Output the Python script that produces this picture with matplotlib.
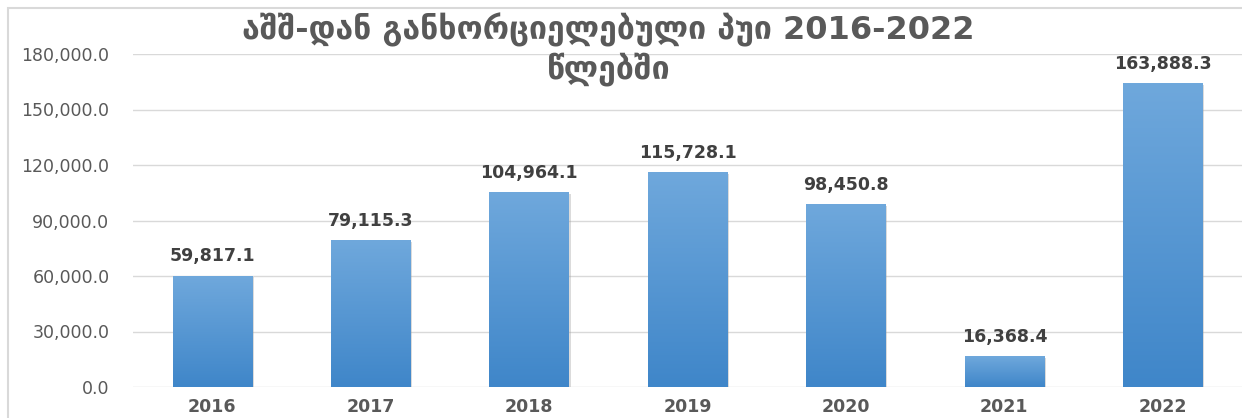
import matplotlib.pyplot as plt
import numpy as np
from matplotlib.colors import LinearSegmentedColormap
from matplotlib.patches import Rectangle

# data
years = ['2016', '2017', '2018', '2019', '2020', '2021', '2022']
values = [59817.1, 79115.3, 104964.1, 115728.1, 98450.8, 16368.4, 163888.3]
title = 'აშშ-დან განხორციელებული პუი 2016-2022\nწლებში'

plt.rcParams['font.family'] = ['DejaVu Sans']

fig = plt.figure(figsize=(12.42, 4.18), dpi=100)
ax = fig.add_axes([133 / 1242, 31 / 418, 1 - 133 / 1242, 333 / 418])

x = np.arange(len(years))
bars = ax.bar(x, values, width=0.5, color='none', zorder=3)

# gradient fill for bars
cmap = LinearSegmentedColormap.from_list('bar', ['#3f86c9', '#6fa8dc'])
grad = np.linspace(0, 1, 256).reshape(-1, 1)
for b in bars:
    x0, w, h = b.get_x(), b.get_width(), b.get_height()
    ax.add_patch(Rectangle((x0 + 0.012, 0), w, h - 600, facecolor='#9a9a9a',
                           alpha=0.35, edgecolor='none', zorder=2))
    ax.imshow(grad, cmap=cmap, aspect='auto', origin='lower',
              extent=[x0, x0 + w, 0, h], zorder=3)

for xi, v in zip(x, values):
    ax.annotate(f'{v:,.1f}', (xi, v), xytext=(0, 8), textcoords='offset points',
                ha='center', va='bottom', fontsize=12.5, fontweight='bold',
                color='#404040')

ax.set_xlim(-0.5, 6.5)
ax.set_ylim(0, 180000)
ax.set_yticks(np.arange(0, 180001, 30000))
ax.set_yticklabels([f'{t:,.1f}' for t in np.arange(0, 180001, 30000)])
ax.set_xticks(x)
ax.set_xticklabels(years, fontweight='bold')
ax.tick_params(axis='y', length=0, pad=17, labelsize=12.5, labelcolor='#595959')
ax.tick_params(axis='x', length=0, pad=8, labelsize=12.5, labelcolor='#595959')
ax.grid(axis='y', color='#d9d9d9', linewidth=1, zorder=0)
ax.set_axisbelow(True)
for s in ax.spines.values():
    s.set_visible(False)

fig.text(0.49, 1 - 49 / 418, title, ha='center', va='center', fontsize=23,
         fontweight='bold', color='#595959', linespacing=1.2)

# chart frame
fig.patches.append(Rectangle((8 / 1242, -0.1), 1.1, 1.1 - 8 / 418,
                             transform=fig.transFigure, fill=False,
                             edgecolor='#d9d9d9', linewidth=1.5))

fig.savefig('out.png', dpi=100)
